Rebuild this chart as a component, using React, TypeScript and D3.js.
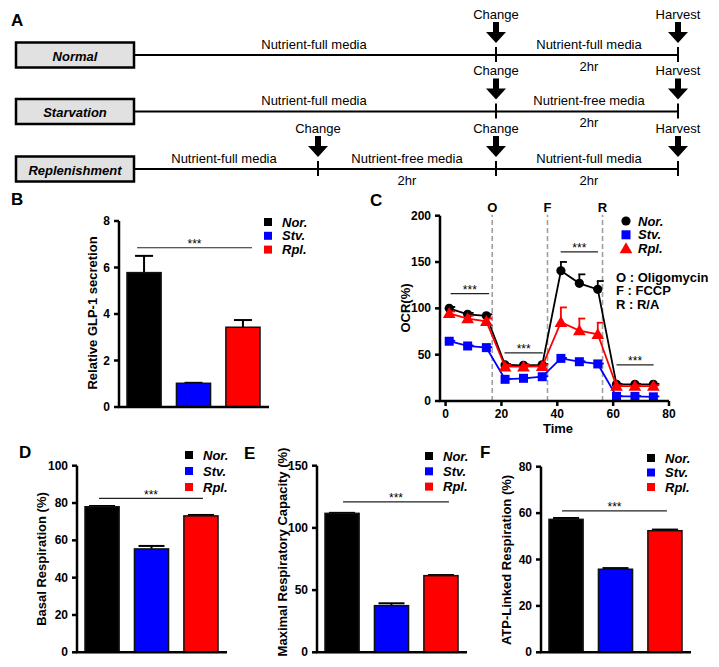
import React from "react";
import * as d3 from "d3";

// groups shared by B, C, D, E, F
const groups = ["Nor.", "Stv.", "Rpl."];
const groupColors = ["#000000", "#0000ff", "#ff0000"];

// B: relative GLP-1 secretion
const glpMean = [5.78, 1.02, 3.43];
const glpErr = [0.72, 0.02, 0.31];
const glpTicks = [0, 2, 4, 6, 8];

// C: OCR time course
const ocrTime = [1.3, 7.9, 14.6, 21.3, 27.9, 34.6, 41.3, 47.9, 54.5, 61.2, 67.8, 74.4];
const norOcr = [100, 93.6, 92, 38.9, 38.5, 39, 140.6, 127, 120.5, 18, 18, 18];
const norErr = [1.5, 1.5, 1.5, 1, 1, 1, 9.5, 9.7, 9, 0.5, 0.5, 0.5];
const stvOcr = [64.5, 59.4, 57.6, 23.4, 24.5, 26.2, 46, 42.4, 40, 5, 5, 4.5];
const stvErr = [0.5, 0.5, 0.5, 0.5, 0.5, 0.5, 0.5, 0.5, 0.5, 0.5, 0.5, 0.5];
const rplOcr = [94.6, 89, 86, 37, 37, 37.5, 85, 76, 72, 16, 16, 16];
const rplErr = [2, 3, 3, 2, 2, 2, 16, 13, 12.5, 1, 1, 1];
const injections = ["O", "F", "R"];
const injectionTime = [16.7, 36.5, 56.2];
const ocrYTicks = [0, 50, 100, 150, 200];
const ocrXTicks = [0, 20, 40, 60, 80];
const ocrSigFrom = [1.8, 21.1, 41.2, 61.2];
const ocrSigTo = [15.6, 34.8, 54.6, 74.5];
const ocrSigLevel = [116, 52, 161, 39];
const drugNotes = ["O : Oligomycin", "F : FCCP", "R : R/A"];

// D, E, F
const basalMean = [78, 55.4, 73.1];
const basalErr = [0.4, 1.6, 0.5];
const basalTicks = [0, 20, 40, 60, 80, 100];
const maxMean = [111.7, 37.5, 61.6];
const maxErr = [0.4, 1.9, 0.5];
const maxTicks = [0, 50, 100, 150];
const atpMean = [57.3, 35.8, 52.4];
const atpErr = [0.6, 0.5, 0.5];
const atpTicks = [0, 20, 40, 60, 80];

// A: protocol scheme
const rowNames = ["Normal", "Starvation", "Replenishment"];

const FONT = "'Liberation Sans', Arial, Helvetica, sans-serif";

function Legend({ x, y, gap }: { x: number; y: number; gap: number }) {
  return (
    <g>
      {groups.map((g, i) => (
        <g key={g}>
          <rect x={x} y={y + i * gap - 4} width={8} height={8} fill={groupColors[i]} />
          <text x={x + 18} y={y + i * gap} dominantBaseline="central" fontSize={13}
            fontWeight="bold" fontStyle="italic">{g}</text>
        </g>
      ))}
    </g>
  );
}

function BarPanel(p: any) {
  const y = d3.scaleLinear().domain([0, p.max]).range([p.y0, p.y1]);
  const x = d3.scaleBand().domain(groups).range([p.ax + 8, p.ax + 141]).paddingInner(0.31);
  const bw = x.bandwidth();
  const cx = (i: number) => (x(groups[i]) as number) + bw / 2;
  const sigY = y(p.sigLevel);
  return (
    <g>
      {groups.map((g, i) => {
        const top = y(p.means[i]);
        const et = y(p.means[i] + p.errs[i]);
        return (
          <g key={g}>
            <line x1={cx(i)} x2={cx(i)} y1={top} y2={et} stroke="#000" strokeWidth={2} />
            <line x1={cx(i) - p.cap} x2={cx(i) + p.cap} y1={et} y2={et} stroke="#000" strokeWidth={2} />
            <rect x={x(g)} y={top} width={bw} height={y(0) - top} fill={groupColors[i]}
              stroke="#111" strokeWidth={1.5} />
          </g>
        );
      })}
      <line x1={p.ax} x2={p.ax} y1={y(0)} y2={y(p.max)} stroke="#000" strokeWidth={2.5} />
      <line x1={p.ax - 1} x2={p.ax + 150} y1={y(0)} y2={y(0)} stroke="#000" strokeWidth={2.5} />
      {p.ticks.map((t: number) => (
        <g key={t}>
          <line x1={p.ax - 5} x2={p.ax} y1={y(t)} y2={y(t)} stroke="#000" strokeWidth={2.5} />
          <text x={p.ax - 9} y={y(t)} textAnchor="end" dominantBaseline="central"
            fontSize={12} fontWeight="bold">{t}</text>
        </g>
      ))}
      <line x1={cx(0) + p.sigDx[0]} x2={cx(2) + p.sigDx[1]} y1={sigY} y2={sigY}
        stroke="#222" strokeWidth={1.2} />
      <text x={(cx(0) + cx(2)) / 2 + (p.sigDx[0] + p.sigDx[1]) / 2} y={sigY + 0.5}
        textAnchor="middle" fontSize={12}>***</text>
      <text transform={`translate(${p.labelX},${p.labelY}) rotate(-90)`} textAnchor="middle"
        dominantBaseline="central" fontSize={13} fontWeight="bold">{p.label}</text>
      <Legend x={p.legX} y={p.legY} gap={p.legGap} />
      <text x={p.letterX} y={p.letterY} dominantBaseline="central" fontSize={17}
        fontWeight="bold">{p.letter}</text>
    </g>
  );
}

function Marker({ kind, x, y, color }: { kind: number; x: number; y: number; color: string }) {
  if (kind === 0) return <circle cx={x} cy={y} r={4.6} fill={color} />;
  if (kind === 1) return <rect x={x - 4.5} y={y - 4.5} width={9} height={9} fill={color} />;
  const tri = d3.symbol().type(d3.symbolTriangle).size(70)() as string;
  return <path d={tri} transform={`translate(${x},${y + 1})`} fill={color} />;
}

function OcrPanel() {
  const x = d3.scaleLinear().domain([-2, 80]).range([440, 669]);
  const y = d3.scaleLinear().domain([0, 200]).range([401, 215.7]);
  const series = [
    { v: norOcr, e: norErr },
    { v: stvOcr, e: stvErr },
    { v: rplOcr, e: rplErr },
  ];
  const line = d3.line<number>().x((_, i) => x(ocrTime[i])).y((d) => y(d));
  return (
    <g>
      {injectionTime.map((t, i) => (
        <g key={injections[i]}>
          <line x1={x(t)} x2={x(t)} y1={y(0)} y2={y(200) - 1} stroke="#a0a0a0"
            strokeWidth={1.6} strokeDasharray="5,3" />
          <text x={x(t)} y={207} textAnchor="middle" dominantBaseline="central" fontSize={13}
            fontWeight="bold">{injections[i]}</text>
        </g>
      ))}
      {series.map((s, k) => (
        <g key={k}>
          <path d={line(s.v) as string} fill="none" stroke={groupColors[k]} strokeWidth={1.8} />
          {s.v.map((v, i) => (
            <g key={i}>
              <line x1={x(ocrTime[i])} x2={x(ocrTime[i])} y1={y(v)} y2={y(v + s.e[i])}
                stroke={groupColors[k]} strokeWidth={1.8} />
              <line x1={x(ocrTime[i]) - 1} x2={x(ocrTime[i]) + 6} y1={y(v + s.e[i])} y2={y(v + s.e[i])}
                stroke={groupColors[k]} strokeWidth={1.8} />
              <Marker kind={k} x={x(ocrTime[i])} y={y(v)} color={groupColors[k]} />
            </g>
          ))}
        </g>
      ))}
      <line x1={440} x2={440} y1={y(0)} y2={y(200)} stroke="#000" strokeWidth={2.5} />
      <line x1={439} x2={x(80)} y1={y(0)} y2={y(0)} stroke="#000" strokeWidth={2.5} />
      {ocrYTicks.map((t) => (
        <g key={t}>
          <line x1={435} x2={440} y1={y(t)} y2={y(t)} stroke="#000" strokeWidth={2.5} />
          <text x={431} y={y(t)} textAnchor="end" dominantBaseline="central" fontSize={12}
            fontWeight="bold">{t}</text>
        </g>
      ))}
      {ocrXTicks.map((t) => (
        <g key={t}>
          <line x1={x(t)} x2={x(t)} y1={y(0)} y2={y(0) + 5} stroke="#000" strokeWidth={2.5} />
          <text x={x(t)} y={414} textAnchor="middle" dominantBaseline="central" fontSize={12}
            fontWeight="bold">{t}</text>
        </g>
      ))}
      {ocrSigLevel.map((lv, i) => (
        <g key={i}>
          <line x1={x(ocrSigFrom[i])} x2={x(ocrSigTo[i])} y1={y(lv)} y2={y(lv)} stroke="#222"
            strokeWidth={1.2} />
          <text x={(x(ocrSigFrom[i]) + x(ocrSigTo[i])) / 2} y={y(lv) + 0.5} textAnchor="middle"
            fontSize={12}>***</text>
        </g>
      ))}
      <text x={558} y={428.5} textAnchor="middle" dominantBaseline="central" fontSize={13}
        fontWeight="bold">Time</text>
      <text transform="translate(405,308) rotate(-90)" textAnchor="middle" dominantBaseline="central"
        fontSize={13} fontWeight="bold">OCR(%)</text>
      {groups.map((g, i) => (
        <g key={g}>
          <Marker kind={i} x={626} y={221 + i * 13.8} color={groupColors[i]} />
          <text x={638} y={221 + i * 13.8} dominantBaseline="central" fontSize={13}
            fontWeight="bold" fontStyle="italic">{g}</text>
        </g>
      ))}
      {drugNotes.map((n, i) => (
        <text key={n} x={616} y={277 + i * 13.6} dominantBaseline="central" fontSize={13}
          fontWeight="bold">{n}</text>
      ))}
      <text x={370} y={200} dominantBaseline="central" fontSize={17} fontWeight="bold">C</text>
    </g>
  );
}

function Arrow({ x, y, label }: { x: number; y: number; label: string }) {
  // y = line level
  return (
    <g>
      <text x={x} y={y - 41} textAnchor="middle" dominantBaseline="central" fontSize={13}>{label}</text>
      <rect x={x - 3} y={y - 33} width={6} height={11} fill="#000" />
      <path d={`M${x - 10},${y - 23} L${x + 10},${y - 23} L${x},${y - 12} Z`} fill="#000" />
      <line x1={x} x2={x} y1={y - 8} y2={y + 7} stroke="#000" strokeWidth={2} />
    </g>
  );
}

function SchemePanel() {
  const rowY = [55, 111.5, 169];
  const xEnd = 678;
  const xChange = 496;
  const xEarly = 318;
  return (
    <g>
      <text x={11} y={20} dominantBaseline="central" fontSize={17} fontWeight="bold">A</text>
      {rowNames.map((name, r) => (
        <g key={name}>
          <line x1={134} x2={xEnd} y1={rowY[r]} y2={rowY[r]} stroke="#000" strokeWidth={2} />
          <rect x={16} y={rowY[r] - 12.5} width={118} height={25} fill="#e1e1e1" stroke="#000"
            strokeWidth={2.5} />
          <text x={75} y={rowY[r] + 1} textAnchor="middle" dominantBaseline="central" fontSize={13}
            fontWeight="bold" fontStyle="italic">{name}</text>
          <Arrow x={xChange} y={rowY[r]} label="Change" />
          <Arrow x={xEnd} y={rowY[r]} label="Harvest" />
          <text x={589} y={rowY[r] + 11} textAnchor="middle" dominantBaseline="central" fontSize={13}>2hr</text>
        </g>
      ))}
      <text x={314} y={rowY[0] - 11} textAnchor="middle" dominantBaseline="central" fontSize={13}>Nutrient-full media</text>
      <text x={589} y={rowY[0] - 11} textAnchor="middle" dominantBaseline="central" fontSize={13}>Nutrient-full media</text>
      <text x={314} y={rowY[1] - 11} textAnchor="middle" dominantBaseline="central" fontSize={13}>Nutrient-full media</text>
      <text x={589} y={rowY[1] - 11} textAnchor="middle" dominantBaseline="central" fontSize={13}>Nutrient-free media</text>
      <Arrow x={xEarly} y={rowY[2]} label="Change" />
      <text x={224} y={rowY[2] - 11} textAnchor="middle" dominantBaseline="central" fontSize={13}>Nutrient-full media</text>
      <text x={407} y={rowY[2] - 11} textAnchor="middle" dominantBaseline="central" fontSize={13}>Nutrient-free media</text>
      <text x={589} y={rowY[2] - 11} textAnchor="middle" dominantBaseline="central" fontSize={13}>Nutrient-full media</text>
      <text x={407} y={rowY[2] + 11} textAnchor="middle" dominantBaseline="central" fontSize={13}>2hr</text>
    </g>
  );
}

export default function App() {
  return (
    <div>
      <style>{`body{margin:0;background:#fff}`}</style>
      <svg width={719} height={667} style={{ display: "block", fontFamily: FONT }}>
        <rect width={719} height={667} fill="#fff" />
        <SchemePanel />
        <BarPanel ax={119} y0={407} y1={221} max={8} ticks={glpTicks} means={glpMean} errs={glpErr}
          cap={9} sigLevel={6.85} sigDx={[-7, 9]} label="Relative GLP-1 secretion" labelX={92}
          labelY={313} legX={264} legY={222} legGap={13.8} letter="B" letterX={11} letterY={199} />
        <OcrPanel />
        <BarPanel ax={77} y0={652.3} y1={465.7} max={100} ticks={basalTicks} means={basalMean}
          errs={basalErr} cap={13} sigLevel={82.5} sigDx={[-3, 2]} label="Basal Respiration (%)"
          labelX={41} labelY={559} legX={185} legY={455} legGap={16} letter="D" letterX={19}
          letterY={452} />
        <BarPanel ax={317} y0={652.3} y1={465.7} max={150} ticks={maxTicks} means={maxMean}
          errs={maxErr} cap={13} sigLevel={121} sigDx={[1, 8]} label="Maximal Respiratory Capacity (%)"
          labelX={282} labelY={552} legX={425} legY={456} legGap={15.3} letter="E" letterX={244}
          letterY={453} />
        <BarPanel ax={541} y0={652.3} y1={466.7} max={80} ticks={atpTicks} means={atpMean}
          errs={atpErr} cap={13} sigLevel={61} sigDx={[-4, 2]} label="ATP-Linked Respiration (%)"
          labelX={506} labelY={560} legX={647} legY={458} legGap={14.5} letter="F" letterX={480}
          letterY={452} />
      </svg>
    </div>
  );
}
